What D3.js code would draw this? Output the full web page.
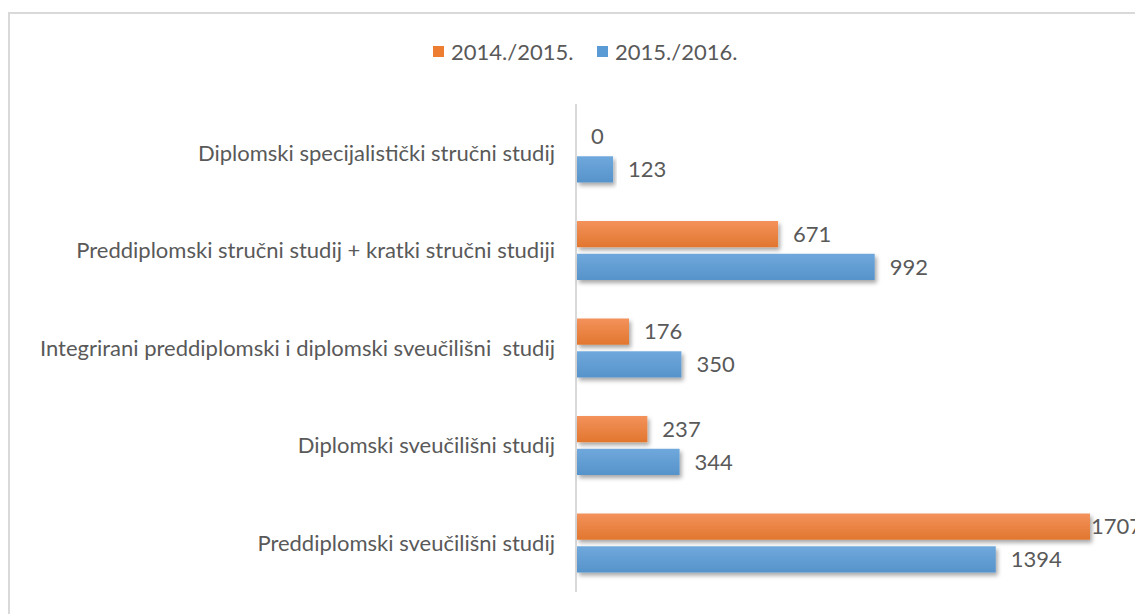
<!DOCTYPE html>
<html lang="hr">
  <head>
    <meta charset="utf-8" />
    <title>Studenti po vrsti studija</title>
    <script type="text/javascript" src="https://cdn.jsdelivr.net/npm/d3@7"></script>
    <style type="text/css">
      body { margin: 0; background: #fff; }
      text { font-family: Lato, "Open Sans", sans-serif; fill: #595959; }
    </style>
  </head>
  <body>
    <script type="text/javascript">
      var categories = [
        "Diplomski specijalistički stručni studij",
        "Preddiplomski stručni studij + kratki stručni studiji",
        "Integrirani preddiplomski i diplomski sveučilišni  studij",
        "Diplomski sveučilišni studij",
        "Preddiplomski sveučilišni studij"
      ];
      var seriesNames = ["2014./2015.", "2015./2016."];
      var values2014 = [0, 671, 176, 237, 1707];
      var values2015 = [123, 992, 350, 344, 1394];

      var w = 1135;
      var h = 614;
      var fs = "22px";
      var colors = ["#ED7D31", "#5B9BD5"];
      var lighter = ["#F4925C", "#6FA8DC"];

      var svg = d3.select("body").append("svg")
        .attr("width", w)
        .attr("height", h);

      var defs = svg.append("defs");
      colors.forEach(function (c, i) {
        var g = defs.append("linearGradient")
          .attr("id", "grad" + i)
          .attr("x1", 0).attr("y1", 0).attr("x2", 0).attr("y2", 1);
        g.append("stop").attr("offset", "0%").attr("stop-color", lighter[i]);
        g.append("stop").attr("offset", "100%").attr("stop-color", d3.color(c).darker(0.15));
      });
      var f = defs.append("filter").attr("id", "shadow")
        .attr("x", "-5%").attr("y", "-30%").attr("width", "115%").attr("height", "180%");
      f.append("feDropShadow")
        .attr("dx", 2).attr("dy", 3).attr("stdDeviation", 2)
        .attr("flood-color", "#000").attr("flood-opacity", 0.35);

      // outer frame
      svg.append("rect")
        .attr("x", 9).attr("y", 13)
        .attr("width", w).attr("height", h)
        .attr("fill", "none")
        .attr("stroke", "#d9d9d9")
        .attr("stroke-width", 2);

      var x0 = 576;
      var xScale = d3.scaleLinear()
        .domain([0, 1707])
        .range([x0, 1090]);

      var yScale = d3.scaleBand()
        .domain(d3.range(categories.length))
        .range([104, 592])
        .paddingInner(0.395)
        .paddingOuter(0.2);

      var subScale = d3.scaleBand()
        .domain([0, 1])
        .range([0, yScale.bandwidth()])
        .paddingInner(0.2);

      // axis line
      svg.append("line")
        .attr("x1", x0).attr("x2", x0)
        .attr("y1", 104).attr("y2", 592)
        .attr("stroke", "#d9d9d9")
        .attr("stroke-width", 2);

      var rows = [];
      categories.forEach(function (c, i) {
        rows.push({ cat: i, s: 0, v: values2014[i] });
        rows.push({ cat: i, s: 1, v: values2015[i] });
      });

      svg.selectAll("rect.bar")
        .data(rows.filter(function (d) { return d.v > 0; }))
        .enter()
        .append("rect")
        .attr("class", "bar")
        .attr("x", x0 + 1)
        .attr("y", function (d) { return yScale(d.cat) + subScale(d.s); })
        .attr("width", function (d) { return xScale(d.v) - x0 - 1; })
        .attr("height", subScale.bandwidth())
        .attr("fill", function (d) { return "url(#grad" + d.s + ")"; })
        .attr("filter", "url(#shadow)");

      svg.selectAll("text.val")
        .data(rows)
        .enter()
        .append("text")
        .attr("class", "val")
        .attr("x", function (d) {
          var xe = xScale(d.v) + 15;
          if (xe + 45 > w) xe = xScale(d.v) + 1;
          return xe;
        })
        .attr("y", function (d) { return yScale(d.cat) + subScale(d.s) + subScale.bandwidth() / 2; })
        .attr("dy", "0.35em")
        .attr("font-size", fs)
        .text(function (d) { return d.v; });

      svg.selectAll("text.cat")
        .data(categories)
        .enter()
        .append("text")
        .attr("class", "cat")
        .attr("x", 555)
        .attr("y", function (d, i) { return yScale(i) + yScale.bandwidth() / 2; })
        .attr("dy", "0.35em")
        .attr("text-anchor", "end")
        .attr("font-size", fs)
        .style("white-space", "pre")
        .text(function (d) { return d; });

      // legend
      var legendX = [433, 597];
      seriesNames.forEach(function (name, i) {
        svg.append("rect")
          .attr("x", legendX[i]).attr("y", 46)
          .attr("width", 11).attr("height", 11)
          .attr("fill", colors[i]);
        svg.append("text")
          .attr("x", legendX[i] + 18).attr("y", 52)
          .attr("dy", "0.35em")
          .attr("font-size", fs)
          .text(name);
      });
    </script>
  </body>
</html>
